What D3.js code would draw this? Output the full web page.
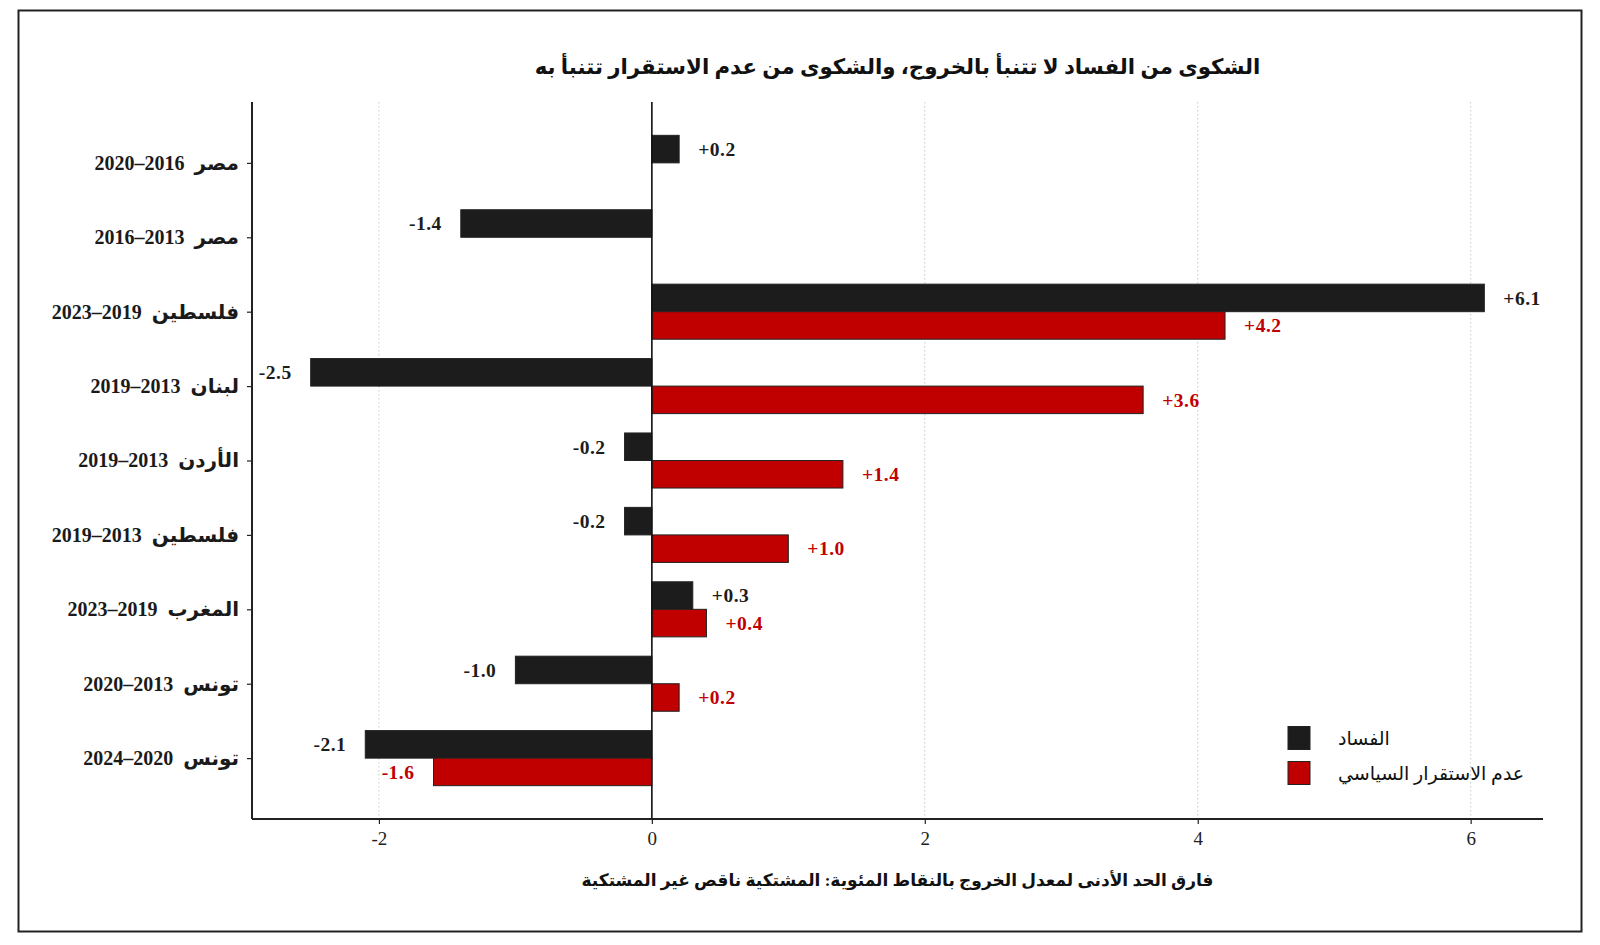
<!DOCTYPE html>
<html>
<head>
<meta charset="utf-8">
<script src="https://cdn.jsdelivr.net/npm/d3@7"></script>
<style>
  html, body { margin: 0; padding: 0; background: #fff; }
  svg { display: block; }
</style>
</head>
<body>
<svg id="chart" width="1600" height="945"></svg>
<script>
// ---- data ----
const titleText = "الشكوى من الفساد لا تتنبأ بالخروج، والشكوى من عدم الاستقرار تتنبأ به";
const xLabelText = "فارق الحد الأدنى لمعدل الخروج بالنقاط المئوية: المشتكية ناقص غير المشتكية";
const categories = [
  "مصر  2016–2020",
  "مصر  2013–2016",
  "فلسطين  2019–2023",
  "لبنان  2013–2019",
  "الأردن  2013–2019",
  "فلسطين  2013–2019",
  "المغرب  2019–2023",
  "تونس  2013–2020",
  "تونس  2020–2024"
];
const corruption  = [0.2, -1.4, 6.1, -2.5, -0.2, -0.2, 0.3, -1.0, -2.1];
const instability = [null, null, 4.2, 3.6, 1.4, 1.0, 0.4, 0.2, -1.6];
const seriesNames = ["الفساد", "عدم الاستقرار السياسي"];
const xTicks = [-2, 0, 2, 4, 6];

// ---- styles ----
const BLACK = "#1c1c1c", RED = "#c00000", EDGE = "#222";
const SERIF = "'Liberation Serif', 'DejaVu Serif', serif";
const ARFONT = "'Liberation Serif', 'DejaVu Sans', sans-serif";

const svg = d3.select("#chart");
const plot = { left: 252, right: 1543, top: 102, bottom: 819 };

const x = d3.scaleLinear().domain([-2.93, 6.53]).range([plot.left, plot.right]);
const y = d3.scaleLinear().domain([-0.818, 8.818]).range([plot.top, plot.bottom]);
const barH = 0.37;

// outer frame
svg.append("rect").attr("x", 18.5).attr("y", 10.5).attr("width", 1563).attr("height", 921)
  .attr("fill", "none").attr("stroke", "#222").attr("stroke-width", 2);

// grid
svg.append("g").selectAll("line").data(xTicks).join("line")
  .attr("x1", d => x(d)).attr("x2", d => x(d))
  .attr("y1", plot.top).attr("y2", plot.bottom)
  .attr("stroke", "#c8c8c8").attr("stroke-width", 1).attr("stroke-dasharray", "1.5,2.5");

// bars
const rows = categories.map((c, i) => ({ c, i, a: corruption[i], b: instability[i] }));
const gBars = svg.append("g");
gBars.selectAll("rect.a").data(rows).join("rect").attr("class", "a")
  .attr("x", d => x(Math.min(0, d.a))).attr("width", d => Math.abs(x(d.a) - x(0)))
  .attr("y", d => y(d.i - barH)).attr("height", d => y(d.i) - y(d.i - barH))
  .attr("fill", BLACK).attr("stroke", EDGE).attr("stroke-width", 1);
gBars.selectAll("rect.b").data(rows.filter(d => d.b !== null)).join("rect").attr("class", "b")
  .attr("x", d => x(Math.min(0, d.b))).attr("width", d => Math.abs(x(d.b) - x(0)))
  .attr("y", d => y(d.i)).attr("height", d => y(d.i + barH) - y(d.i))
  .attr("fill", RED).attr("stroke", EDGE).attr("stroke-width", 1);

// value labels
const fmt = v => (v >= 0 ? "+" : "-") + Math.abs(v).toFixed(1);
function labels(data, key, off, color) {
  svg.append("g").selectAll("text").data(data).join("text")
    .attr("x", d => d[key] >= 0 ? x(d[key]) + 19 : x(d[key]) - 19)
    .attr("y", d => y(d.i + off))
    .attr("dy", "0.35em")
    .attr("text-anchor", d => d[key] >= 0 ? "start" : "end")
    .attr("font-family", SERIF).attr("font-weight", "bold").attr("font-size", 19.5)
    .attr("letter-spacing", 0.5)
    .attr("fill", color)
    .text(d => fmt(d[key]));
}
labels(rows, "a", -barH / 2, BLACK);
labels(rows.filter(d => d.b !== null), "b", barH / 2, RED);

// zero line
svg.append("line").attr("x1", x(0)).attr("x2", x(0)).attr("y1", plot.top).attr("y2", plot.bottom)
  .attr("stroke", "#111").attr("stroke-width", 1.6);

// x axis
const xAxis = svg.append("g").attr("transform", `translate(0,${plot.bottom})`)
  .call(d3.axisBottom(x).tickValues(xTicks).tickSize(5).tickPadding(8).tickFormat(d3.format("d")));
xAxis.select(".domain").attr("stroke", "#222").attr("stroke-width", 2)
  .attr("d", `M${plot.left},0H${plot.right}`);
xAxis.selectAll(".tick line").attr("stroke", "#222").attr("stroke-width", 1.2);
xAxis.selectAll(".tick text").attr("font-family", SERIF).attr("font-size", 19).attr("fill", "#222")
  .text(d => d < 0 ? "-" + Math.abs(d) : d);

// y axis
const yAxis = svg.append("g").attr("transform", `translate(${plot.left},0)`)
  .call(d3.axisLeft(y).tickValues(d3.range(categories.length)).tickSize(5).tickPadding(8)
    .tickFormat(i => categories[i]));
yAxis.select(".domain").attr("stroke", "#222").attr("stroke-width", 2)
  .attr("d", `M0,${plot.top}V${plot.bottom}`);
yAxis.selectAll(".tick line").attr("stroke", "#222").attr("stroke-width", 1.2);
yAxis.selectAll(".tick text")
  .attr("font-family", ARFONT).attr("font-weight", "bold").attr("font-size", 20).attr("fill", "#1a1a1a")
  .attr("letter-spacing", 0.5)
  .attr("direction", "rtl").attr("text-anchor", "start").attr("x", -13)
  .style("white-space", "pre")
  .style("unicode-bidi", "embed");

// title
svg.append("text").attr("x", (plot.left + plot.right) / 2).attr("y", 74)
  .attr("text-anchor", "middle").attr("direction", "rtl")
  .attr("font-family", ARFONT).attr("font-weight", "bold").attr("font-size", 21.3).attr("fill", "#111")
  .text(titleText);

// x label
svg.append("text").attr("x", (plot.left + plot.right) / 2).attr("y", 886)
  .attr("text-anchor", "middle").attr("direction", "rtl")
  .attr("font-family", ARFONT).attr("font-weight", "bold").attr("font-size", 17).attr("fill", "#111")
  .text(xLabelText);

// legend
const legend = svg.append("g");
const legColors = [BLACK, RED];
seriesNames.forEach((name, k) => {
  const yy = 738 + k * 35;
  legend.append("rect").attr("x", 1288).attr("y", yy - 11.5).attr("width", 22).attr("height", 23)
    .attr("fill", legColors[k]).attr("stroke", EDGE).attr("stroke-width", 1);
  legend.append("text").attr("x", 1338).attr("y", yy).attr("dy", "0.35em")
    .attr("direction", "rtl").attr("text-anchor", "end")
    .attr("font-family", ARFONT).attr("font-size", 19).attr("fill", "#111")
    .text(name);
});
</script>
</body>
</html>
